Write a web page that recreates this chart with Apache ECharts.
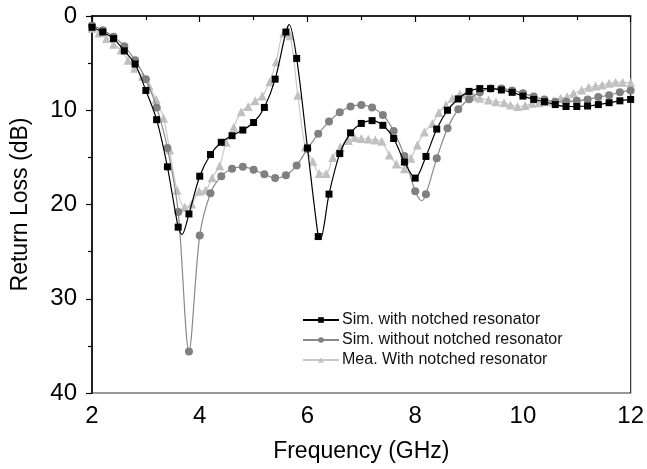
<!DOCTYPE html>
<html>
<head>
<meta charset="utf-8">
<script src="https://cdn.jsdelivr.net/npm/echarts@6/dist/echarts.min.js"></script>
<style>html,body{margin:0;padding:0;background:#fff;}#c{width:647px;height:469px;}</style>
</head>
<body>
<div id="c"></div>
<script>
// ---- data ----
const xTicks = [2, 4, 6, 8, 10, 12];
const yTicks = [0, 10, 20, 30, 40];

const simWithFreq = [2.0,2.2,2.4,2.6,2.8,3.0,3.2,3.4,3.6,3.8,4.0,4.2,4.4,4.6,4.8,5.0,5.2,5.4,5.6,5.8,6.0,6.2,6.4,6.6,6.8,7.0,7.2,7.4,7.6,7.8,8.0,8.2,8.4,8.6,8.8,9.0,9.2,9.4,9.6,9.8,10.0,10.2,10.4,10.6,10.8,11.0,11.2,11.4,11.6,11.8,12.0];
const simWithRL   = [1.2,1.7,2.4,3.7,5.1,7.9,11.0,16.0,22.4,21.0,17.0,14.7,13.4,12.7,12.1,11.3,9.7,6.7,1.7,4.5,14.0,23.4,18.9,14.6,12.4,11.4,11.1,11.6,13.0,15.5,17.2,14.9,12.0,10.0,8.8,8.0,7.7,7.7,7.85,8.1,8.5,8.85,9.1,9.4,9.6,9.6,9.55,9.4,9.2,9.0,8.85];
// turning points of the trace between markers
const simWithTurnFreq = [3.67, 5.66, 6.24];
const simWithTurnRL   = [23.2, 0.9, 23.7];

const simWithoutFreq = [2.0,2.2,2.4,2.6,2.8,3.0,3.2,3.4,3.6,3.8,4.0,4.2,4.4,4.6,4.8,5.0,5.2,5.4,5.6,5.8,6.0,6.2,6.4,6.6,6.8,7.0,7.2,7.4,7.6,7.8,8.0,8.2,8.4,8.6,8.8,9.0,9.2,9.4,9.6,9.8,10.0,10.2,10.4,10.6,10.8,11.0,11.2,11.4,11.6,11.8,12.0];
const simWithoutRL   = [1.0,1.5,2.2,3.2,4.7,6.7,9.7,14.0,20.8,35.6,23.3,18.8,17.0,16.2,16.0,16.3,16.8,17.2,16.9,15.85,14.1,12.5,11.2,10.2,9.6,9.45,9.7,10.5,12.2,14.85,18.6,18.9,15.1,11.9,9.9,8.84,8.1,7.7,7.7,7.9,8.2,8.55,8.85,9.1,9.1,9.0,8.85,8.6,8.4,8.1,7.9];
const simWithoutTurnFreq = [8.12];
const simWithoutTurnRL   = [19.6];

const meaFreq = [2.0,2.13,2.27,2.40,2.54,2.67,2.79,2.94,3.06,3.19,3.33,3.44,3.58,3.72,3.85,3.99,4.11,4.23,4.37,4.49,4.63,4.77,4.90,5.03,5.16,5.30,5.42,5.56,5.68,5.82,5.96,6.10,6.22,6.35,6.47,6.61,6.76,6.88,7.00,7.13,7.26,7.38,7.52,7.65,7.80,7.92,8.04,8.17,8.32,8.44,8.57,8.69,8.83,8.96,9.09,9.20,9.36,9.50,9.65,9.77,9.90,10.04,10.17,10.30,10.44,10.57,10.70,10.82,10.94,11.09,11.22,11.35,11.47,11.60,11.72,11.85,12.0];
const meaRL   = [1.3,1.8,2.4,3.0,3.6,4.7,5.55,6.4,7.4,8.84,10.85,14.2,18.5,20.3,19.95,18.6,18.5,17.15,15.9,13.4,11.8,10.15,9.6,9.0,8.5,6.97,4.85,1.84,2.1,8.4,13.9,15.4,16.7,16.7,15.0,13.9,13.2,12.9,13.0,13.05,13.15,13.3,14.75,15.7,16.2,15.1,13.7,12.3,11.4,10.25,9.45,8.73,8.28,8.3,8.56,8.73,8.9,9.1,9.2,9.45,9.6,9.5,9.27,9.2,9.1,9.0,8.73,8.56,8.2,7.85,7.57,7.43,7.32,7.14,7.04,7.04,7.07];

const seriesNames = ['Sim. with notched resonator', 'Sim. without notched resonator', 'Mea. With notched resonator'];

function build(fx, fy, tx, ty) {
  const pts = fx.map((x, i) => ({ value: [x, fy[i]] }));
  (tx || []).forEach((x, i) => pts.push({ value: [x, ty[i]], symbol: 'none' }));
  pts.sort((a, b) => a.value[0] - b.value[0]);
  return pts;
}

const FONT = '"Liberation Sans", Arial, sans-serif';
const chart = echarts.init(document.getElementById('c'), null, { renderer: 'canvas' });
chart.setOption({
  animation: false,
  backgroundColor: '#fff',
  grid: { left: 92, right: 15, top: 16, bottom: 76, show: true, borderColor: '#333', borderWidth: 1.2, backgroundColor: 'transparent' },
  legend: {
    orient: 'vertical', left: 302, top: 312, padding: 0, itemWidth: 36, itemHeight: 7, itemGap: 4,
    textStyle: { fontFamily: FONT, fontSize: 16, color: '#111', padding: [0, 0, 0, -2] },
    data: seriesNames
  },
  xAxis: {
    type: 'value', min: xTicks[0], max: xTicks[xTicks.length - 1], interval: 2,
    name: 'Frequency (GHz)', nameLocation: 'middle', nameGap: 47,
    nameTextStyle: { fontFamily: FONT, fontSize: 23, color: '#000' },
    axisLine: { show: true, lineStyle: { color: '#000', width: 1.5 } },
    axisTick: { show: true, inside: false, length: 6, lineStyle: { color: '#000', width: 1.2 } },
    minorTick: { show: true, splitNumber: 2, length: 4, lineStyle: { color: '#000', width: 1.2 } },
    axisLabel: { fontFamily: FONT, fontSize: 24, color: '#000', margin: 11 },
    splitLine: { show: false }
  },
  yAxis: {
    type: 'value', min: yTicks[0], max: yTicks[yTicks.length - 1], interval: 10, inverse: true,
    name: 'Return Loss (dB)', nameLocation: 'middle', nameGap: 60,
    nameTextStyle: { fontFamily: FONT, fontSize: 23, color: '#000' },
    axisLine: { show: true, lineStyle: { color: '#000', width: 1.5 } },
    axisTick: { show: true, inside: false, length: 6, lineStyle: { color: '#000', width: 1.2 } },
    minorTick: { show: true, splitNumber: 2, length: 4, lineStyle: { color: '#000', width: 1.2 } },
    axisLabel: { fontFamily: FONT, fontSize: 24, color: '#000', margin: 15 },
    splitLine: { show: false }
  },
  series: [
    {
      name: seriesNames[2], type: 'line', smooth: 0.3, z: 2,
      data: build(meaFreq, meaRL),
      symbol: 'triangle', symbolSize: 9,
      itemStyle: { color: '#c0c0c0' },
      lineStyle: { color: '#c8c8c8', width: 1.2 }
    },
    {
      name: seriesNames[1], type: 'line', smooth: 0.3, z: 3,
      data: build(simWithoutFreq, simWithoutRL, simWithoutTurnFreq, simWithoutTurnRL),
      symbol: 'circle', symbolSize: 8,
      itemStyle: { color: '#808080' },
      lineStyle: { color: '#888888', width: 1.2 }
    },
    {
      name: seriesNames[0], type: 'line', smooth: 0.3, z: 4,
      data: build(simWithFreq, simWithRL, simWithTurnFreq, simWithTurnRL),
      symbol: 'rect', symbolSize: 7,
      itemStyle: { color: '#000' },
      lineStyle: { color: '#000', width: 1.2 }
    }
  ]
});
</script>
</body>
</html>
